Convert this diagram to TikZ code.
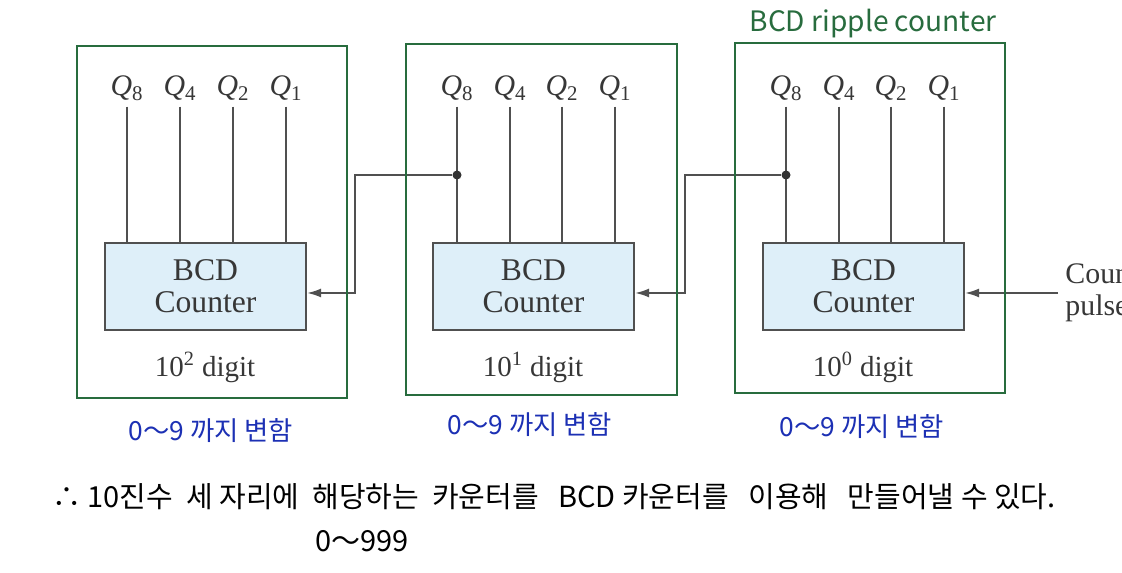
\documentclass[tikz,border=0pt]{standalone}
\usepackage{fontspec}
\setmainfont{Liberation Serif}
\newfontfamily\hand{Noto Sans CJK KR}
\usetikzlibrary{arrows.meta}
\definecolor{framegreen}{RGB}{40,108,62}
\definecolor{penblue}{RGB}{28,48,180}
\definecolor{boxfill}{RGB}{222,239,249}
\definecolor{wiregray}{RGB}{80,80,80}
\definecolor{inkgray}{RGB}{55,55,55}
\tikzset{
  frame/.style={draw=framegreen, line width=1.5pt},
  counter/.style={draw=wiregray, fill=boxfill, line width=1.3pt, minimum width=4.02cm,
    minimum height=1.74cm, align=center, text=inkgray, font=\fontsize{18}{18}\selectfont},
  qlabel/.style={text=inkgray, inner sep=3.4pt, font=\fontsize{17}{18}\selectfont},
  digit/.style={text=inkgray, font=\fontsize{16.5}{18}\selectfont},
  wire/.style={draw=wiregray, line width=1pt},
  dot/.style={circle, fill=black!80, inner sep=0pt, minimum size=0.18cm},
  note/.style={text=penblue, font=\hand\fontsize{15}{17}\selectfont},
  memo/.style={text=black, font=\hand\fontsize{16.5}{18}\selectfont},
}
\begin{document}
\begin{tikzpicture}[x=0.02cm, y=-0.02cm, >={Latex[length=0.28cm, width=0.18cm]}]
\useasboundingbox (0,0) rectangle (1122,573);
\clip (0,0) rectangle (1122,573);
% 10^2 stage
\node[counter] (c2) at (205.5,286.5) {BCD\\Counter};
\node[qlabel] (q8c) at (127,88) {\textit{Q}\textsubscript{8}};
\node[qlabel] (q4c) at (180,88) {\textit{Q}\textsubscript{4}};
\node[qlabel] (q2c) at (233,88) {\textit{Q}\textsubscript{2}};
\node[qlabel] (q1c) at (286,88) {\textit{Q}\textsubscript{1}};
\draw[wire] (q8c.south) -- (q8c.south |- c2.north);
\draw[wire] (q4c.south) -- (q4c.south |- c2.north);
\draw[wire] (q2c.south) -- (q2c.south |- c2.north);
\draw[wire] (q1c.south) -- (q1c.south |- c2.north);
\node[digit] (dg2) at (205,367) {10\textsuperscript{2} digit};
% 10^1 stage
\node[counter] (c1) at (533.5,286.5) {BCD\\Counter};
\node[qlabel] (q8b) at (457,88) {\textit{Q}\textsubscript{8}};
\node[qlabel] (q4b) at (510,88) {\textit{Q}\textsubscript{4}};
\node[qlabel] (q2b) at (562,88) {\textit{Q}\textsubscript{2}};
\node[qlabel] (q1b) at (615,88) {\textit{Q}\textsubscript{1}};
\draw[wire] (q8b.south) -- (q8b.south |- c1.north);
\draw[wire] (q4b.south) -- (q4b.south |- c1.north);
\draw[wire] (q2b.south) -- (q2b.south |- c1.north);
\draw[wire] (q1b.south) -- (q1b.south |- c1.north);
\node[digit] (dg1) at (533,367) {10\textsuperscript{1} digit};
% 10^0 stage
\node[counter] (c0) at (863.5,286.5) {BCD\\Counter};
\node[qlabel] (q8a) at (786,88) {\textit{Q}\textsubscript{8}};
\node[qlabel] (q4a) at (839,88) {\textit{Q}\textsubscript{4}};
\node[qlabel] (q2a) at (891,88) {\textit{Q}\textsubscript{2}};
\node[qlabel] (q1a) at (944,88) {\textit{Q}\textsubscript{1}};
\draw[wire] (q8a.south) -- (q8a.south |- c0.north);
\draw[wire] (q4a.south) -- (q4a.south |- c0.north);
\draw[wire] (q2a.south) -- (q2a.south |- c0.north);
\draw[wire] (q1a.south) -- (q1a.south |- c0.north);
\node[digit] (dg0) at (863,367) {10\textsuperscript{0} digit};
% carries
\node[dot] (d1) at (q8b.south |- 0,175) {};
\node[dot] (d0) at (q8a.south |- 0,175) {};
\coordinate (k1) at (355,293);
\coordinate (k0) at (685,293);
\draw[wire,->] (d1) -| (k1) -- (c2.east |- k1);
\draw[wire,->] (d0) -| (k0) -- (c1.east |- k0);
\node[text=inkgray, anchor=west, align=left, inner sep=4pt, font=\fontsize{17}{18}\selectfont] (pulse) at (1058,293) {Count\\pulses};
\draw[wire,->] (pulse.west) -- (c0.east |- pulse.west);
% green frames
\draw[frame] (77,46) rectangle (347,398);
\draw[frame] (406,44) rectangle (677,395);
\draw[frame] (735,43) rectangle (1005,393);
\node[text=framegreen, font=\hand\fontsize{16}{18}\selectfont] (title) at (873,24) {BCD ripple counter};
% notes
\node[note] (n2) at (211,431) {0～9 까지 변함};
\node[note] (n1) at (530,425) {0～9 까지 변함};
\node[note] (n0) at (862,427) {0～9 까지 변함};
\node[memo, anchor=west] (sum) at (46,497) {∴ 10진수\ \ 세 자리에\ \ 해당하는\ \ 카운터를\ \ \ BCD 카운터를\ \ \ 이용해\ \ \ 만들어낼 수 있다.};
\node[memo] (range) at (362,541) {0～999};
\end{tikzpicture}
\end{document}
